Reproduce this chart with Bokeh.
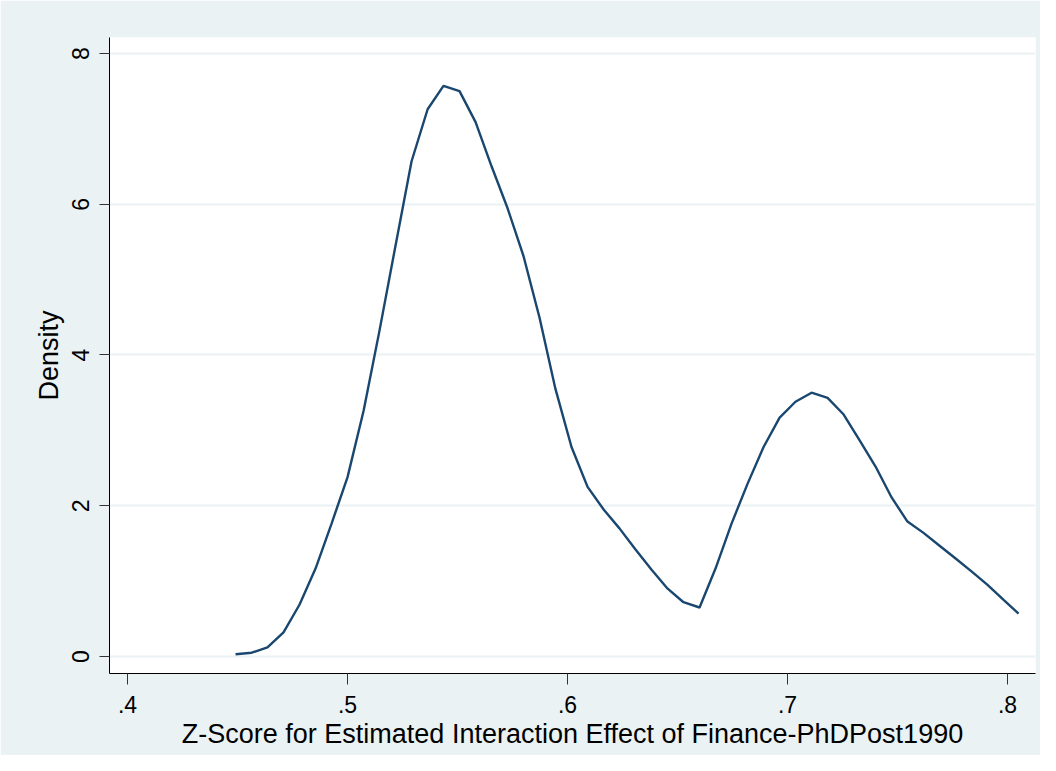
from bokeh.plotting import figure
from bokeh.models import Range1d, FixedTicker, CustomJSTickFormatter
from bokeh.embed import file_html
from bokeh.resources import INLINE

# Kernel density estimate
z_score = [0.4491, 0.4564, 0.4636, 0.4709, 0.4782, 0.4855, 0.4927, 0.5000, 0.5073, 0.5145,
           0.5218, 0.5291, 0.5364, 0.5436, 0.5509, 0.5582, 0.5655, 0.5727, 0.5800, 0.5873,
           0.5945, 0.6018, 0.6091, 0.6164, 0.6236, 0.6309, 0.6382, 0.6455, 0.6527, 0.6600,
           0.6673, 0.6745, 0.6818, 0.6891, 0.6964, 0.7036, 0.7109, 0.7182, 0.7255, 0.7327,
           0.7400, 0.7473, 0.7545, 0.7618, 0.7691, 0.7764, 0.7836, 0.7909, 0.7982, 0.8050]
density = [0.03, 0.05, 0.12, 0.32, 0.69, 1.17, 1.76, 2.38, 3.26, 4.32,
           5.45, 6.57, 7.26, 7.57, 7.50, 7.09, 6.50, 5.95, 5.31, 4.49,
           3.55, 2.78, 2.25, 1.95, 1.70, 1.42, 1.15, 0.90, 0.72, 0.65,
           1.17, 1.76, 2.29, 2.78, 3.17, 3.38, 3.50, 3.43, 3.21, 2.87,
           2.52, 2.11, 1.79, 1.64, 1.47, 1.30, 1.13, 0.95, 0.75, 0.57]

x_ticks = [0.4, 0.5, 0.6, 0.7, 0.8]
y_ticks = [0, 2, 4, 6, 8]
x_title = "Z-Score for Estimated Interaction Effect of Finance-PhDPost1990"
y_title = "Density"

BG = "#EAF2F3"
FONT = "Liberation Sans"

p = figure(width=1040, height=755, output_backend="svg", toolbar_location=None,
           x_range=Range1d(0.3918, 0.8127), y_range=Range1d(-0.2255, 8.212),
           min_border_left=109, min_border_right=5, min_border_top=37, min_border_bottom=82,
           frame_width=926, frame_height=636)
p.border_fill_color = BG
p.background_fill_color = "white"
p.outline_line_color = None

p.line(z_score, density, line_color="#1A476F", line_width=2.4)

p.xgrid.visible = False
p.ygrid.grid_line_color = BG
p.ygrid.grid_line_width = 2
p.ygrid.ticker = FixedTicker(ticks=y_ticks)

fmt = CustomJSTickFormatter(code="var s = tick.toFixed(1); if (tick === Math.round(tick)) { s = tick.toFixed(0); } return s.replace(/^0\\./, '.');")

for ax in (p.xaxis[0], p.yaxis[0]):
    ax.axis_line_color = "black"
    ax.axis_line_width = 1
    ax.major_tick_line_color = "#333333"
    ax.major_tick_in = 0
    ax.minor_tick_line_color = None
    ax.major_label_text_font = FONT
    ax.major_label_text_font_size = "23px"
    ax.major_label_text_color = "black"
    ax.axis_label_text_font = FONT
    ax.axis_label_text_font_size = "27px"
    ax.axis_label_text_font_style = "normal"
    ax.axis_label_text_color = "black"
    ax.formatter = fmt

p.xaxis[0].ticker = FixedTicker(ticks=x_ticks)
p.xaxis[0].major_tick_out = 11
p.xaxis[0].major_label_standoff = 11
p.xaxis[0].axis_label = x_title
p.xaxis[0].axis_label_standoff = 3

p.yaxis[0].ticker = FixedTicker(ticks=y_ticks)
p.yaxis[0].major_tick_out = 10
p.yaxis[0].major_label_orientation = "vertical"
p.yaxis[0].major_label_standoff = 10
p.yaxis[0].axis_label = y_title
p.yaxis[0].axis_label_standoff = 6

open("out.html", "w").write(file_html(p, INLINE))
